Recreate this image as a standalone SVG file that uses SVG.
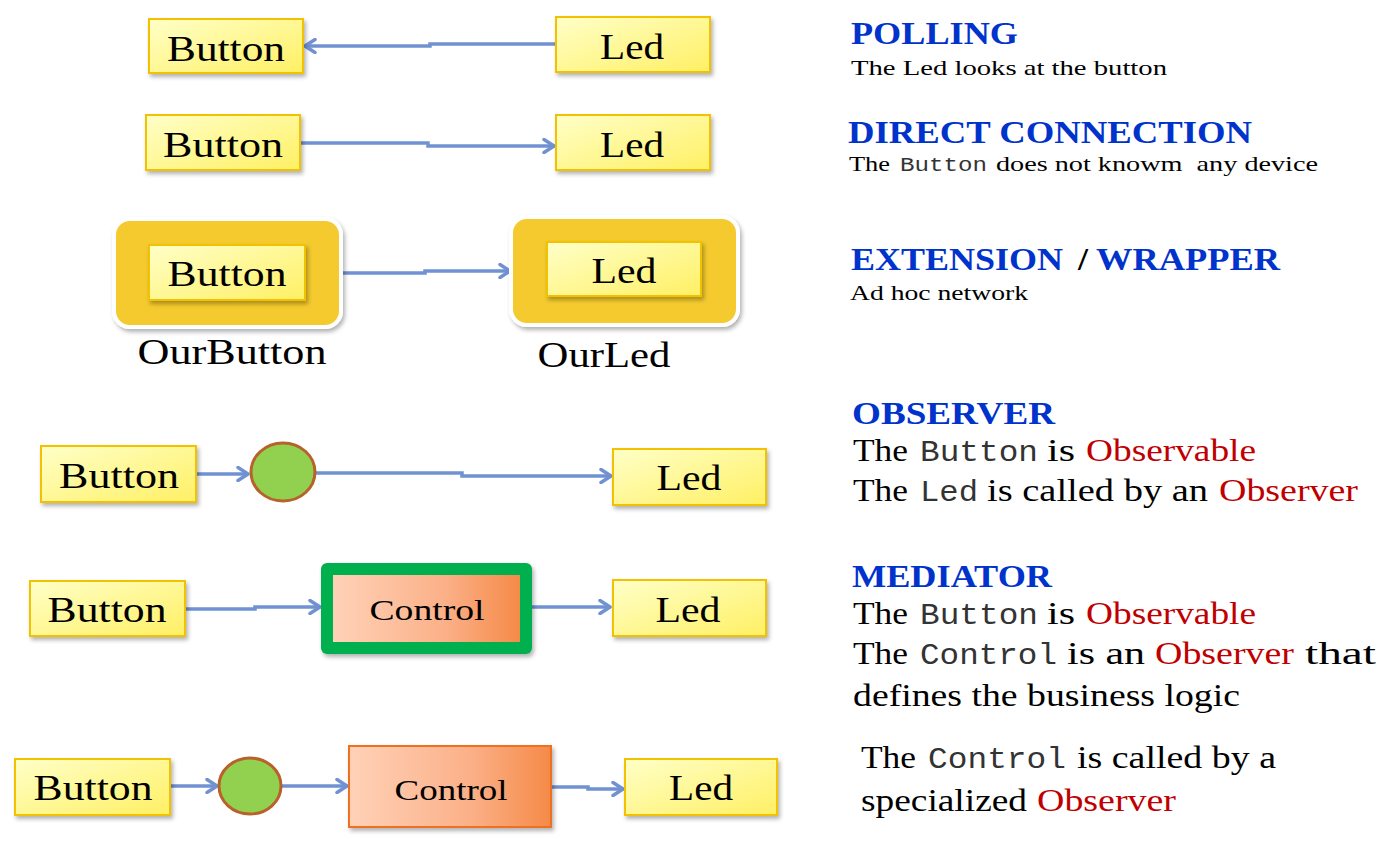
<svg xmlns="http://www.w3.org/2000/svg" width="1398" height="845" viewBox="0 0 1398 845">
<defs>
<linearGradient id="yel" x1="0" y1="0" x2="1" y2="1">
<stop offset="0" stop-color="#FFFFC8"/>
<stop offset="1" stop-color="#FFF064"/>
</linearGradient>
<linearGradient id="org" x1="0" y1="0" x2="1" y2="0">
<stop offset="0" stop-color="#FFD2B8"/>
<stop offset="0.6" stop-color="#FBB088"/>
<stop offset="1" stop-color="#F58A48"/>
</linearGradient>
<filter id="sh" x="-10%" y="-10%" width="130%" height="140%">
<feDropShadow dx="2" dy="3" stdDeviation="2" flood-color="#000" flood-opacity="0.3"/>
</filter>
<marker id="ah" viewBox="0 0 14 16" refX="12" refY="8" markerWidth="14" markerHeight="16" markerUnits="userSpaceOnUse" orient="auto">
<path d="M2,1.5 L12,8 L2,14.5" fill="none" stroke="#7092D2" stroke-width="3.5" stroke-linecap="round" stroke-linejoin="round"/>
</marker>
<style>
.box{fill:url(#yel);stroke:#F2C200;stroke-width:2;filter:url(#sh)}
.wrap{fill:#F4CA2E;stroke:#FFFFFF;stroke-width:4;filter:url(#sh)}
.circ{fill:#92D050;stroke:#B8612A;stroke-width:3}
.ctl{fill:url(#org)}
.lbl{font-family:"Liberation Serif","Times New Roman",serif;font-size:36px;fill:#000;text-anchor:middle}
.lbl2{font-family:"Liberation Serif","Times New Roman",serif;font-size:30px;fill:#000;text-anchor:middle}
.ln{fill:none;stroke:#7092D2;stroke-width:3.5;marker-end:url(#ah)}
.hd{font-family:"Liberation Serif","Times New Roman",serif;font-size:31px;font-weight:bold;fill:#0033CC}
.sm{font-family:"Liberation Serif","Times New Roman",serif;font-size:22px;fill:#000}
.smm{font-family:"Liberation Mono","Courier New",monospace;font-size:21px;fill:#333}
.bd{font-family:"Liberation Serif","Times New Roman",serif;font-size:32px;fill:#000}
.bdm{font-family:"Liberation Mono","Courier New",monospace;font-size:30px;fill:#333}
.red{fill:#C00000}
</style>
</defs>

<g id="connectors">
<path class="ln" d="M556,44 L430,44 L430,46 L305,46"/>
<path class="ln" d="M300,143 L428,143 L428,146 L554,146"/>
<path class="ln" d="M341,273 L425,273 L425,271 L510,271"/>
<path class="ln" d="M196,474 L248,474"/>
<path class="ln" d="M315,473 L462,473 L462,476 L611,476"/>
<path class="ln" d="M185,609 L255,609 L255,607 L320,607"/>
<path class="ln" d="M532,607 L610,607"/>
<path class="ln" d="M170,786 L217,786"/>
<path class="ln" d="M281,786 L347,786"/>
<path class="ln" d="M551,787 L588,787 L588,789 L623,789"/>
</g>

<g id="polling-button"><rect class="box" x="149" y="19" width="154" height="54"/><text class="lbl" x="226" y="61" textLength="118" lengthAdjust="spacingAndGlyphs">Button</text></g>
<g id="polling-led"><rect class="box" x="556" y="17" width="154" height="55"/><text class="lbl" x="632" y="59" textLength="64" lengthAdjust="spacingAndGlyphs">Led</text></g>

<g id="direct-button"><rect class="box" x="146" y="115" width="154" height="55"/><text class="lbl" x="223" y="157" textLength="120" lengthAdjust="spacingAndGlyphs">Button</text></g>
<g id="direct-led"><rect class="box" x="556" y="115" width="154" height="55"/><text class="lbl" x="632" y="157" textLength="64" lengthAdjust="spacingAndGlyphs">Led</text></g>

<g id="ourbutton">
<rect class="wrap" x="114" y="219" width="227" height="108" rx="16"/>
<rect class="box" x="149" y="245" width="156" height="55"/>
<text class="lbl" x="227" y="286" textLength="119" lengthAdjust="spacingAndGlyphs">Button</text>
<text class="lbl" x="232" y="364" textLength="189" lengthAdjust="spacingAndGlyphs">OurButton</text>
</g>
<g id="ourled">
<rect class="wrap" x="511" y="217" width="227" height="108" rx="16"/>
<rect class="box" x="547" y="242" width="154" height="54"/>
<text class="lbl" x="624" y="283" textLength="65" lengthAdjust="spacingAndGlyphs">Led</text>
<text class="lbl" x="604" y="367" textLength="133" lengthAdjust="spacingAndGlyphs">OurLed</text>
</g>

<g id="observer-button"><rect class="box" x="41" y="446" width="155" height="56"/><text class="lbl" x="119" y="488" textLength="120" lengthAdjust="spacingAndGlyphs">Button</text></g>
<g id="observer-circle"><ellipse class="circ" cx="283" cy="472" rx="32" ry="29"/></g>
<g id="observer-led"><rect class="box" x="613" y="449" width="153" height="56"/><text class="lbl" x="689" y="490" textLength="65" lengthAdjust="spacingAndGlyphs">Led</text></g>

<g id="mediator-button"><rect class="box" x="30" y="581" width="155" height="55"/><text class="lbl" x="107" y="622" textLength="119" lengthAdjust="spacingAndGlyphs">Button</text></g>
<g id="mediator-control">
<rect x="321" y="563" width="211" height="91" rx="6" fill="#00B050" filter="url(#sh)"/>
<rect class="ctl" x="333" y="575" width="187" height="67"/>
<text class="lbl2" x="427" y="620" textLength="115" lengthAdjust="spacingAndGlyphs">Control</text>
</g>
<g id="mediator-led"><rect class="box" x="613" y="580" width="153" height="56"/><text class="lbl" x="688" y="622" textLength="65" lengthAdjust="spacingAndGlyphs">Led</text></g>

<g id="spec-button"><rect class="box" x="15" y="759" width="155" height="56"/><text class="lbl" x="93" y="800" textLength="119" lengthAdjust="spacingAndGlyphs">Button</text></g>
<g id="spec-circle"><ellipse class="circ" cx="250" cy="786" rx="31" ry="28"/></g>
<g id="spec-control">
<rect class="ctl" x="349" y="746" width="202" height="81" stroke="#F07020" stroke-width="2" filter="url(#sh)"/>
<text class="lbl2" x="451" y="800" textLength="113" lengthAdjust="spacingAndGlyphs">Control</text>
</g>
<g id="spec-led"><rect class="box" x="625" y="759" width="152" height="56"/><text class="lbl" x="701" y="800" textLength="64" lengthAdjust="spacingAndGlyphs">Led</text></g>

<g id="descriptions">
<text class="hd" x="851" y="44" textLength="167" lengthAdjust="spacingAndGlyphs">POLLING</text>
<text class="sm" x="851" y="75" textLength="316" lengthAdjust="spacingAndGlyphs">The Led looks at the button</text>

<text class="hd" x="848" y="143" textLength="404" lengthAdjust="spacingAndGlyphs">DIRECT CONNECTION</text>
<text class="sm" x="849" y="171" textLength="41" lengthAdjust="spacingAndGlyphs">The</text>
<text class="smm" x="900" y="171" textLength="87" lengthAdjust="spacingAndGlyphs">Button</text>
<text class="sm" x="996" y="171" textLength="322" lengthAdjust="spacingAndGlyphs" xml:space="preserve">does not knowm  any device</text>

<text class="hd" x="851" y="270" textLength="212" lengthAdjust="spacingAndGlyphs">EXTENSION</text>
<text class="hd" x="1078" y="270" style="fill:#000" textLength="10" lengthAdjust="spacingAndGlyphs">/</text>
<text class="hd" x="1096" y="270" textLength="184" lengthAdjust="spacingAndGlyphs">WRAPPER</text>
<text class="sm" x="850" y="300" textLength="178" lengthAdjust="spacingAndGlyphs">Ad hoc network</text>

<text class="hd" x="852" y="424" textLength="203" lengthAdjust="spacingAndGlyphs">OBSERVER</text>
<text class="bd" x="853" y="461" textLength="55" lengthAdjust="spacingAndGlyphs">The</text>
<text class="bdm" x="920" y="461" textLength="118" lengthAdjust="spacingAndGlyphs">Button</text>
<text class="bd" x="1047" y="461" textLength="28" lengthAdjust="spacingAndGlyphs">is</text>
<text class="bd red" x="1086" y="461" textLength="170" lengthAdjust="spacingAndGlyphs">Observable</text>
<text class="bd" x="853" y="501" textLength="55" lengthAdjust="spacingAndGlyphs">The</text>
<text class="bdm" x="920" y="501" textLength="58" lengthAdjust="spacingAndGlyphs">Led</text>
<text class="bd" x="987" y="501" textLength="221" lengthAdjust="spacingAndGlyphs">is called by an</text>
<text class="bd red" x="1219" y="501" textLength="139" lengthAdjust="spacingAndGlyphs">Observer</text>

<text class="hd" x="852" y="587" textLength="200" lengthAdjust="spacingAndGlyphs">MEDIATOR</text>
<text class="bd" x="853" y="624" textLength="55" lengthAdjust="spacingAndGlyphs">The</text>
<text class="bdm" x="920" y="624" textLength="118" lengthAdjust="spacingAndGlyphs">Button</text>
<text class="bd" x="1047" y="624" textLength="28" lengthAdjust="spacingAndGlyphs">is</text>
<text class="bd red" x="1086" y="624" textLength="170" lengthAdjust="spacingAndGlyphs">Observable</text>
<text class="bd" x="853" y="664" textLength="55" lengthAdjust="spacingAndGlyphs">The</text>
<text class="bdm" x="920" y="664" textLength="137" lengthAdjust="spacingAndGlyphs">Control</text>
<text class="bd" x="1067" y="664" textLength="78" lengthAdjust="spacingAndGlyphs">is an</text>
<text class="bd red" x="1155" y="664" textLength="139" lengthAdjust="spacingAndGlyphs">Observer</text>
<text class="bd" x="1305" y="664" textLength="71" lengthAdjust="spacingAndGlyphs">that</text>
<text class="bd" x="853" y="706" textLength="387" lengthAdjust="spacingAndGlyphs">defines the business logic</text>

<text class="bd" x="861" y="768" textLength="55" lengthAdjust="spacingAndGlyphs">The</text>
<text class="bdm" x="928" y="768" textLength="138" lengthAdjust="spacingAndGlyphs">Control</text>
<text class="bd" x="1077" y="768" textLength="199" lengthAdjust="spacingAndGlyphs">is called by a</text>
<text class="bd" x="861" y="811" textLength="166" lengthAdjust="spacingAndGlyphs">specialized</text>
<text class="bd red" x="1037" y="811" textLength="139" lengthAdjust="spacingAndGlyphs">Observer</text>
</g>
</svg>
